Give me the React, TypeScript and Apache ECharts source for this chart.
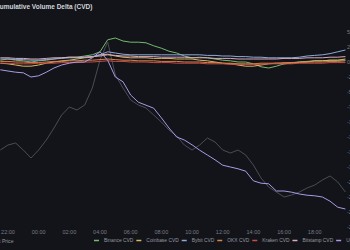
import React, { useEffect, useRef } from "react";
import * as echarts from "echarts";

const categories = [
  "21:30", "22:00", "22:30", "23:00", "23:30", "00:00", "00:30", "01:00", "01:30", "02:00",
  "02:30", "03:00", "03:30", "04:00", "04:30", "05:00", "05:30", "06:00", "06:30", "07:00",
  "07:30", "08:00", "08:30", "09:00", "09:30", "10:00", "10:30", "11:00", "11:30", "12:00",
  "12:30", "13:00", "13:30", "14:00", "14:30", "15:00", "15:30", "16:00", "16:30", "17:00",
  "17:30", "18:00", "18:30", "19:00", "19:30", "20:00",
];
const xTickLabels = ["22:00", "00:00", "02:00", "04:00", "06:00", "08:00", "10:00", "12:00", "14:00", "16:00", "18:00"];

const spotPrice = [
  95550, 95675, 95725, 95550, 95350, 95550, 95800, 96100, 96425, 96625,
  96550, 96675, 97100, 97800, 98250, 97425, 97100, 96800, 96675, 96600,
  96425, 96250, 96050, 95900, 95675, 95550, 95675, 95850, 95750, 95550,
  95475, 95550, 95425, 95175, 94850, 94625, 94500, 94375, 94425, 94500,
  94600, 94675, 94800, 94900, 94750, 94500,
];
const binanceCvd = [
  3, 5, 3, 2, 0, 2, 3, 5, 7, 8, 8, 10, 12, 17, 37, 40, 35, 33, 33, 32,
  27, 23, 18, 15, 10, 7, 8, 7, 5, 3, 2, 0, 0, -3, -8, -10, -7, -3, -1, 0,
  1, 2, 2, 3, 3, 3,
];
const coinbaseCvd = [
  -2, -3, -5, -7, -7, -5, -2, 0, 2, 3, 5, 7, 8, 12, 13, 10, 8, 7, 7, 7,
  6, 6, 6, 5, 5, 5, 3, 2, 0, -2, -3, -5, -7, -7, -5, -3, -2, -3, -2, 0,
  0, 2, 2, 3, 3, 5,
];
const bybitCvd = [
  5, 5, 4, 4, 3, 3, 4, 5, 6, 7, 7, 8, 9, 12, 17, 15, 13, 12, 12, 12,
  12, 12, 12, 12, 12, 12, 12, 11, 11, 10, 10, 9, 9, 8, 8, 7, 7, 7, 7, 8,
  10, 11, 12, 14, 17, 20,
];
const okxCvd = [
  1, 1, 0, 0, -1, -1, 0, 1, 1, 2, 2, 3, 3, 4, 5, 4, 3, 3, 2, 2,
  2, 1, 1, 1, 0, 0, 0, -1, -1, -2, -2, -3, -3, -3, -2, -2, -2, -1, -1, -1,
  0, 0, 0, 1, 1, 2,
];
const krakenCvd = [
  -2, -2, -3, -3, -3, -2, -2, -2, -1, -1, -1, 0, 0, 1, 2, 1, 1, 0, 0, 0,
  -1, -1, -1, -2, -2, -2, -2, -3, -3, -3, -4, -4, -4, -4, -4, -3, -3, -3, -3, -2,
  -2, -2, -2, -1, -1, -1,
];
const bitstampCvd = [
  7, 7, 6, 6, 5, 5, 6, 7, 7, 8, 8, 8, 9, 10, 12, 11, 10, 10, 9, 9,
  9, 8, 8, 8, 8, 7, 7, 7, 6, 6, 6, 5, 5, 5, 5, 5, 5, 6, 6, 6,
  7, 7, 7, 8, 8, 9,
];
const upbitCvd = [
  -13, -15, -17, -18, -25, -23, -17, -10, -5, -2, 0, 0, 7, 17, 3, -25, -33, -55, -67, -72,
  -77, -93, -110, -125, -130, -138, -147, -155, -163, -172, -175, -178, -182, -198, -202, -203, -215, -215, -217, -220,
  -222, -223, -225, -232, -242, -245,
];

const FONT = "'Liberation Sans', Arial, sans-serif";

export default function App() {
  const ref = useRef<HTMLDivElement>(null);
  useEffect(() => {
    if (!ref.current) return;
    const chart = echarts.init(ref.current, null, { renderer: "svg" });
    const cvdSeries = [
      { name: "Binance CVD", data: binanceCvd, color: "#74b96e" },
      { name: "Coinbase CVD", data: coinbaseCvd, color: "#d8b866" },
      { name: "Bybit CVD", data: bybitCvd, color: "#8ea9d8" },
      { name: "OKX CVD", data: okxCvd, color: "#d68548" },
      { name: "Kraken CVD", data: krakenCvd, color: "#c94c48" },
      { name: "Bitstamp CVD", data: bitstampCvd, color: "#dba9c2" },
      { name: "Upbit CVD", data: upbitCvd, color: "#a99be6" },
    ];
    chart.setOption({
      animation: false,
      backgroundColor: "#131419",
      textStyle: { fontFamily: FONT },
      title: {
        text: "Cumulative Volume Delta (CVD)",
        left: 35,
        top: 3,
        padding: 0,
        textStyle: { color: "#d1d4dc", fontSize: 6.5, fontWeight: 600, fontFamily: FONT },
      },
      legend: [
        {
          data: ["Spot Price"],
          left: 20,
          top: 238,
          padding: 0,
          icon: "rect",
          itemWidth: 5,
          itemHeight: 1.5,
          textStyle: { color: "#9598a1", fontSize: 5.1, fontFamily: FONT },
        },
        {
          data: cvdSeries.map((s) => s.name),
          left: 134,
          top: 238,
          width: 400,
          padding: 0,
          itemGap: 3,
          icon: "rect",
          itemWidth: 5,
          itemHeight: 1.5,
          textStyle: { color: "#9598a1", fontSize: 4.9, fontFamily: FONT },
        },
      ],
      grid: { left: 40.3, right: 114.6, top: 32, bottom: 23, containLabel: false },
      xAxis: {
        type: "category",
        data: categories,
        boundaryGap: false,
        axisLine: { show: false },
        axisTick: { show: false },
        splitLine: { show: false },
        axisLabel: {
          interval: (_i: number, v: string) => xTickLabels.includes(v),
          color: "#787b86",
          fontSize: 5.5,
          margin: 1.5,
          fontFamily: FONT,
        },
      },
      yAxis: [
        {
          type: "value",
          position: "right",
          min: -275,
          max: 50,
          interval: 25,
          axisLine: { show: false },
          axisTick: { show: false },
          splitLine: { show: false },
          axisLabel: {
            color: "#787b86",
            fontSize: 5.5,
            margin: 1.5,
            fontFamily: FONT,
            formatter: (v: number) => (v === 0 ? "0" : `${v}M`),
          },
        },
        {
          type: "value",
          position: "left",
          show: false,
          min: 93625,
          max: 98500,
          splitLine: { show: false },
        },
      ],
      series: [
        {
          name: "Spot Price",
          type: "line",
          yAxisIndex: 1,
          data: spotPrice,
          showSymbol: false,
          color: "#4a4d57",
          lineStyle: { width: 1, color: "#4a4d57" },
        },
        ...cvdSeries.map((s) => ({
          name: s.name,
          type: "line",
          yAxisIndex: 0,
          data: s.data,
          showSymbol: false,
          color: s.color,
          lineStyle: { width: 1, color: s.color },
        })),
      ],
    });
    return () => chart.dispose();
  }, []);
  return (
    <div
      style={{
        position: "fixed",
        left: 0,
        top: 0,
        width: 350,
        height: 250,
        overflow: "hidden",
        background: "#131419",
      }}
    >
      <div ref={ref} style={{ position: "absolute", left: -40, top: 0, width: 500, height: 250 }} />
    </div>
  );
}
